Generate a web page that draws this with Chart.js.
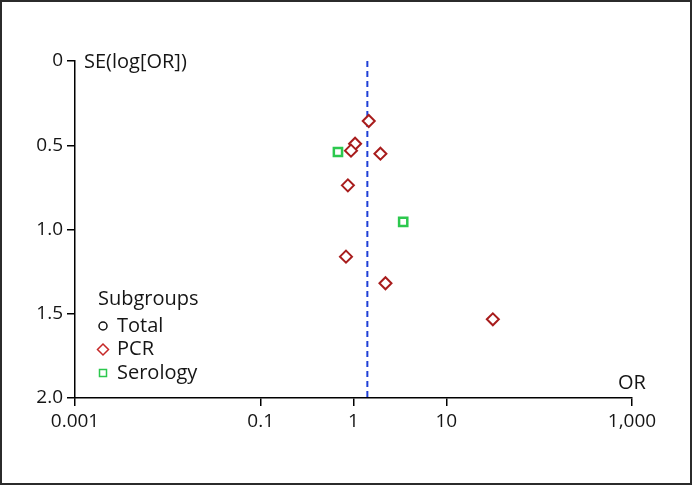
<!DOCTYPE html>
<html>
<head>
<meta charset="utf-8">
<script src="https://cdn.jsdelivr.net/npm/chart.js@4/dist/chart.umd.min.js"></script>
<style>
  html, body { margin: 0; padding: 0; background: #fff; }
  #wrap { position: relative; width: 692px; height: 485px; }
</style>
</head>
<body>
<div id="wrap"><canvas id="c" width="692" height="485"></canvas></div>
<script>
// ---- data ----
const pcrOR = [1.46, 1.04, 0.94, 1.95, 0.87, 0.83, 2.21, 31.7];
const pcrSE = [0.356, 0.491, 0.532, 0.550, 0.738, 1.161, 1.319, 1.533];
const serologyOR = [0.68, 3.43];
const serologySE = [0.540, 0.955];
const pooledOR = 1.41;
const seRange = [0, 2];
const xTickValues = [0.001, 0.1, 1, 10, 1000];
const yTickValues = [0, 0.5, 1.0, 1.5, 2.0];
const legendTitle = 'Subgroups';
const seriesNames = ['Total', 'PCR', 'Serology'];
const yAxisTitle = 'SE(log[OR])';
const xAxisTitle = 'OR';

const FONT = '"Open Sans", "Segoe UI", sans-serif';
const TXT = '#151515';
const RED = '#a81c1c';
const GREEN = '#2cc84e';
const BLUE = '#1f3fd6';

const toPts = (xs, ys) => xs.map((x, i) => ({ x: x, y: ys[i] }));

const decor = {
  id: 'decor',
  beforeDraw(chart) {
    const ctx = chart.ctx;
    ctx.save();
    ctx.fillStyle = '#fff';
    ctx.fillRect(0, 0, chart.width, chart.height);
    ctx.restore();
  },
  afterDraw(chart) {
    const ctx = chart.ctx;
    const a = chart.chartArea;
    ctx.save();
    ctx.fillStyle = TXT;
    ctx.font = '20px ' + FONT;
    ctx.textBaseline = 'middle';
    ctx.textAlign = 'left';
    ctx.fillText(yAxisTitle, a.left + 9, a.top + 1);
    ctx.textAlign = 'center';
    ctx.fillText(xAxisTitle, a.right, a.bottom - 15);

    // legend
    const lx = a.left + 23, ly = a.bottom - 99;
    ctx.textAlign = 'left';
    ctx.fillText(legendTitle, lx, ly);
    const rowH = 23.5;
    const mx = lx + 5, tx = lx + 19;
    // Total: circle
    let y = ly + 27;
    ctx.lineWidth = 1.5;
    ctx.strokeStyle = '#111';
    ctx.beginPath(); ctx.arc(mx, y, 4, 0, Math.PI * 2); ctx.stroke();
    ctx.fillText(seriesNames[0], tx, y);
    // PCR: diamond
    y += rowH;
    ctx.strokeStyle = '#c62828';
    ctx.beginPath();
    ctx.moveTo(mx, y - 5.5); ctx.lineTo(mx + 5.5, y); ctx.lineTo(mx, y + 5.5); ctx.lineTo(mx - 5.5, y); ctx.closePath();
    ctx.stroke();
    ctx.fillText(seriesNames[1], tx, y);
    // Serology: square
    y += rowH;
    ctx.strokeStyle = GREEN;
    ctx.strokeRect(mx - 3.5, y - 3.5, 7, 7);
    ctx.fillText(seriesNames[2], tx, y);

    // frame
    ctx.strokeStyle = '#2b2b2b';
    ctx.lineWidth = 2;
    ctx.strokeRect(1, 1, chart.width - 2, chart.height - 2);
    ctx.restore();
  }
};

new Chart(document.getElementById('c'), {
  type: 'scatter',
  data: {
    datasets: [
      {
        label: 'Pooled',
        type: 'line',
        data: [{ x: pooledOR, y: seRange[0] }, { x: pooledOR, y: seRange[1] }],
        borderColor: BLUE,
        borderWidth: 2,
        borderDash: [6, 4],
        pointRadius: 0,
        fill: false,
        order: 3
      },
      {
        label: seriesNames[0],
        data: [],
        pointStyle: 'circle',
        borderColor: '#111',
        backgroundColor: 'rgba(0,0,0,0)'
      },
      {
        label: seriesNames[1],
        data: toPts(pcrOR, pcrSE),
        pointStyle: 'rectRot',
        pointRadius: 6,
        borderWidth: 2,
        borderColor: RED,
        backgroundColor: '#fff',
        order: 1
      },
      {
        label: seriesNames[2],
        data: toPts(serologyOR, serologySE),
        pointStyle: 'rect',
        pointRadius: 5.8,
        borderWidth: 2.5,
        borderColor: GREEN,
        backgroundColor: '#fff',
        order: 1
      }
    ]
  },
  options: {
    responsive: false,
    animation: false,
    layout: { padding: { top: 61, right: 60, left: 0, bottom: 0 } },
    plugins: { legend: { display: false }, tooltip: { enabled: false } },
    scales: {
      x: {
        type: 'logarithmic',
        min: 0.001,
        max: 1000,
        afterBuildTicks(s) { s.ticks = xTickValues.map(v => ({ value: v })); },
        afterFit(s) { s.height = 87; },
        ticks: {
          autoSkip: false,
          maxRotation: 0,
          padding: 4,
          color: TXT,
          font: { family: FONT, size: 19 },
          callback: v => v >= 1000 ? v.toLocaleString('en-US') : String(v)
        },
        grid: { drawOnChartArea: false, drawTicks: true, tickLength: 8, color: '#000', lineWidth: 1.5 },
        border: { display: true, color: '#000', width: 1.5 }
      },
      y: {
        type: 'linear',
        reverse: true,
        min: seRange[0],
        max: seRange[1],
        afterBuildTicks(s) { s.ticks = yTickValues.map(v => ({ value: v })); },
        afterFit(s) { s.width = 75; },
        ticks: {
          padding: 4,
          color: TXT,
          font: { family: FONT, size: 19 },
          callback: v => v === 0 ? '0' : Number(v).toFixed(1)
        },
        grid: { drawOnChartArea: false, drawTicks: true, tickLength: 8, color: '#000', lineWidth: 1.5 },
        border: { display: true, color: '#000', width: 1.5 }
      }
    }
  },
  plugins: [decor]
});
</script>
</body>
</html>
